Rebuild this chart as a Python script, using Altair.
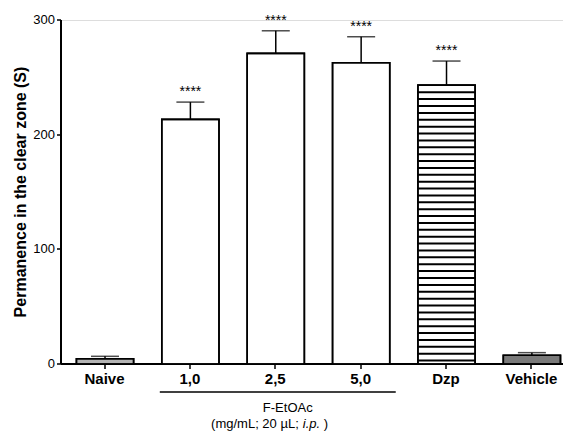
import altair as alt
import pandas as pd

categories = ["Naive", "1,0", "2,5", "5,0", "Dzp", "Vehicle"]
means = [4.6, 213.3, 270.9, 262.7, 243.2, 7.6]
sems = [2.1, 15.1, 19.7, 22.7, 21.0, 2.3]
stars = ["", "****", "****", "****", "****", ""]
fills = ["#b4b4b4", "white", "white", "white", "white", "#7a7a7a"]

df = pd.DataFrame({"cat": categories, "mean": means, "sem": sems, "star": stars})
df["top"] = df["mean"] + df["sem"]

FONT = "Liberation Sans"
xscale = alt.Scale(domain=categories, paddingInner=0.33, paddingOuter=0.105, align=0.86)
yscale = alt.Scale(domain=[0, 300], nice=False)

base = alt.Chart(df)

bars = base.mark_bar(stroke="black", strokeWidth=1.6).encode(
    x=alt.X("cat:N", scale=xscale, sort=categories,
            axis=alt.Axis(title=None, labelAngle=0, labelFontSize=15,
                          labelFontWeight="bold", tickSize=5, labelPadding=3)),
    y=alt.Y("mean:Q", scale=yscale,
            axis=alt.Axis(title="Permanence in the clear zone (S)", values=[0, 100, 200, 300],
                          titleFontSize=16, titleFontWeight="bold",
                          titlePadding=4, labelFontSize=13, tickSize=4, grid=False,
                          labelPadding=2)),
    fill=alt.Fill("cat:N", scale=alt.Scale(domain=categories, range=fills), legend=None),
)

stripes = alt.Chart(alt.sequence(3, 243, 6, as_="v")).transform_calculate(
    cat="'Dzp'"
).mark_rule(color="black", strokeWidth=2).encode(
    x=alt.X("cat:N", scale=xscale, bandPosition=0),
    x2=alt.X2("cat", bandPosition=1),
    y=alt.Y("v:Q", scale=yscale),
)

outline = base.mark_bar(stroke="black", strokeWidth=1.6, fillOpacity=0).encode(
    x=alt.X("cat:N", scale=xscale),
    y=alt.Y("mean:Q", scale=yscale),
)

err = base.mark_rule(color="black", strokeWidth=1.5).encode(
    x=alt.X("cat:N", scale=xscale),
    y=alt.Y("mean:Q", scale=yscale),
    y2="top:Q",
)

cap = base.mark_tick(color="black", thickness=1.5, size=28, orient="horizontal").encode(
    x=alt.X("cat:N", scale=xscale),
    y=alt.Y("top:Q", scale=yscale),
)

startxt = base.mark_text(font=FONT, fontSize=14, color="black", baseline="middle", dy=-10).encode(
    x=alt.X("cat:N", scale=xscale),
    y=alt.Y("top:Q", scale=yscale),
    text="star:N",
)

brk = pd.DataFrame({"a": ["1,0"], "b": ["5,0"]})
bracket = alt.Chart(brk).mark_rule(color="black", strokeWidth=1.5, xOffset=-2, x2Offset=6).encode(
    x=alt.X("a:N", scale=xscale, bandPosition=0),
    x2=alt.X2("b", bandPosition=1),
    y=alt.value(28 + 344),
)

lab = pd.DataFrame({"c": ["2,5"]})
lab1 = alt.Chart(lab).mark_text(font=FONT, fontSize=13, color="black", dx=12).encode(
    x=alt.X("c:N", scale=xscale), y=alt.value(388), text=alt.value("F-EtOAc"))
lab2 = alt.Chart(lab).mark_text(font=FONT, fontSize=13, color="black", dx=23, align="right").encode(
    x=alt.X("c:N", scale=xscale), y=alt.value(404), text=alt.value("(mg/mL; 20 µL;"))
lab3 = alt.Chart(lab).mark_text(font=FONT, fontSize=13, color="black", dx=27, align="left",
                                fontStyle="italic").encode(
    x=alt.X("c:N", scale=xscale), y=alt.value(404), text=alt.value("i.p."))
lab4 = alt.Chart(lab).mark_text(font=FONT, fontSize=13, color="black", dx=48, align="left").encode(
    x=alt.X("c:N", scale=xscale), y=alt.value(404), text=alt.value(")"))

chart = alt.layer(bars, stripes, outline, err, cap, startxt, bracket, lab1, lab2, lab3, lab4).properties(
    width=502, height=344,
    autosize=alt.AutoSizeParams(type="none"),
    padding={"left": 61, "top": 20, "right": 0, "bottom": 68},
).configure_view(stroke=None).configure(background="white").configure_axis(
    labelFont=FONT, titleFont=FONT, labelColor="black", titleColor="black",
    domainColor="black", domainWidth=2, tickColor="black", tickWidth=1.5,
    translate=0,
)

chart.save("out.html", embed_options={"renderer": "svg", "actions": False})
